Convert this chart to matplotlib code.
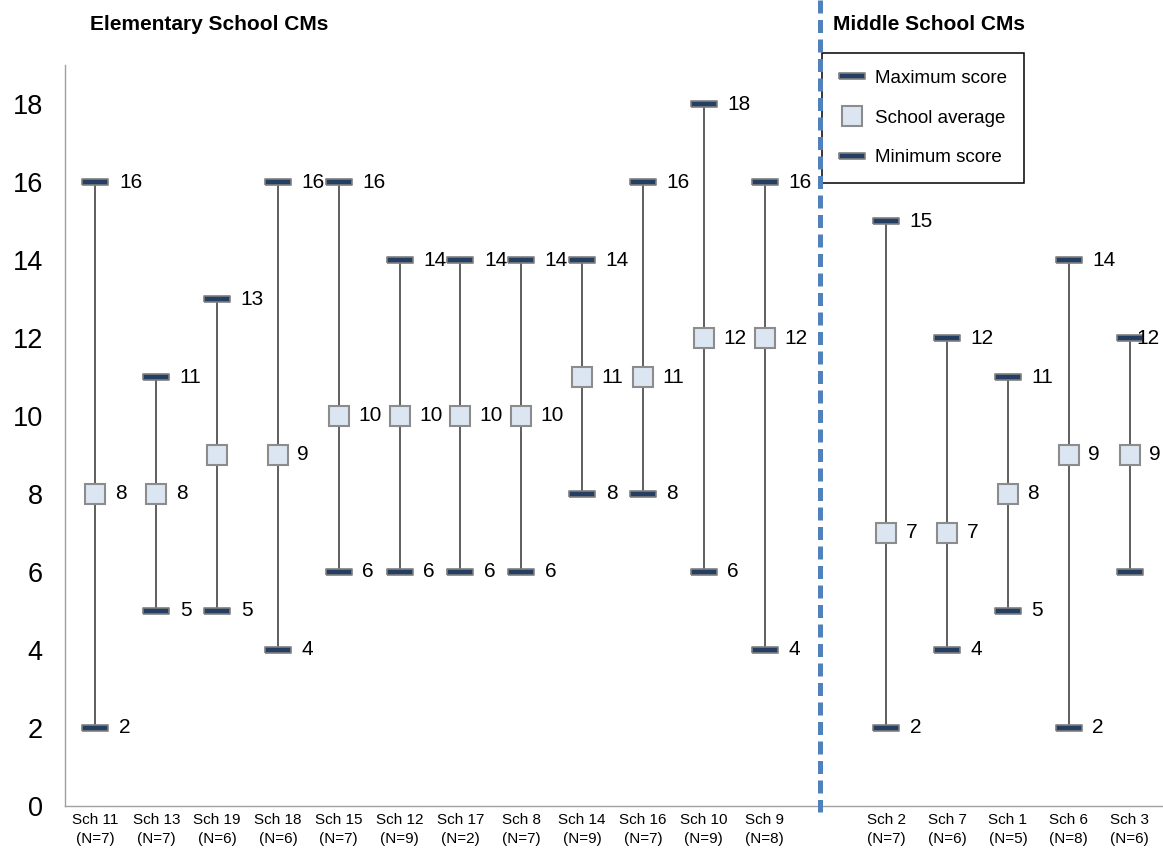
import numpy as np
import matplotlib.pyplot as plt
from matplotlib.lines import Line2D
from matplotlib.transforms import blended_transform_factory

plt.rcParams["font.family"] = ["Liberation Sans", "DejaVu Sans"]

elem_schools = ["Sch 11", "Sch 13", "Sch 19", "Sch 18", "Sch 15", "Sch 12",
                "Sch 17", "Sch 8", "Sch 14", "Sch 16", "Sch 10", "Sch 9"]
elem_n = [7, 7, 6, 6, 7, 9, 2, 7, 9, 7, 9, 8]
elem_max = [16, 11, 13, 16, 16, 14, 14, 14, 14, 16, 18, 16]
elem_avg = [8, 8, 9, 9, 10, 10, 10, 10, 11, 11, 12, 12]
elem_min = [2, 5, 5, 4, 6, 6, 6, 6, 8, 8, 6, 4]

mid_schools = ["Sch 2", "Sch 7", "Sch 1", "Sch 6", "Sch 3"]
mid_n = [7, 6, 5, 8, 6]
mid_max = [15, 12, 11, 14, 12]
mid_avg = [7, 7, 8, 9, 9]
mid_min = [2, 4, 5, 2, 6]

# labels that the original chart does not show
hidden_avg_labels = ["Sch 19"]
hidden_min_labels = ["Sch 3"]

schools = elem_schools + mid_schools
n = elem_n + mid_n
smax = elem_max + mid_max
savg = elem_avg + mid_avg
smin = elem_min + mid_min
# leave one empty slot between the two groups
x = np.r_[np.arange(len(elem_schools)), np.arange(len(mid_schools)) + len(elem_schools) + 1]

navy = "#243f63"
bar_edge = "#7f7f7f"
sq_fill = "#dce6f2"
sq_edge = "#8c8c8c"
bar_marker = [(-1, -0.19), (1, -0.19), (1, 0.19), (-1, 0.19), (-1, -0.19)]

fig = plt.figure(figsize=(11.63, 8.5), dpi=100)
ax = fig.add_axes([0.0559, 0.0518, 0.9441, 0.8717])

ax.vlines(x, smin, smax, color="#333333", lw=1.1, zorder=2)
ax.plot(x, smax, ls="none", marker=bar_marker, ms=19, mfc=navy, mec=bar_edge, mew=1.2, zorder=3)
ax.plot(x, smin, ls="none", marker=bar_marker, ms=19, mfc=navy, mec=bar_edge, mew=1.2, zorder=3)
ax.plot(x, savg, ls="none", marker="s", ms=14, mfc=sq_fill, mec=sq_edge, mew=1.5, zorder=4)

lab_kw = dict(textcoords="offset points", va="center", ha="left", fontsize=15)
for i in range(len(schools)):
    off_max = 17 if i < len(schools) - 1 else 5
    ax.annotate(str(smax[i]), (x[i], smax[i]), xytext=(off_max, 0), **lab_kw)
    if schools[i] not in hidden_min_labels:
        ax.annotate(str(smin[i]), (x[i], smin[i]), xytext=(17, 0), **lab_kw)
    if schools[i] not in hidden_avg_labels:
        ax.annotate(str(savg[i]), (x[i], savg[i]), xytext=(14, 0), **lab_kw)

ax.set_xlim(-0.5, 17.55)
ax.set_ylim(0, 19)
ax.set_yticks(np.arange(0, 19, 2))
ax.set_xticks(x)
ax.set_xticklabels([f"{s}\n(N={k})" for s, k in zip(schools, n)], fontsize=11, linespacing=1.5)
ax.tick_params(axis="y", length=0, pad=16, labelsize=19.5)
ax.tick_params(axis="x", length=0, pad=5)
for side in ["top", "right"]:
    ax.spines[side].set_visible(False)
for side in ["left", "bottom"]:
    ax.spines[side].set_color("#a0a0a0")
    ax.spines[side].set_linewidth(1.0)

# group separator
trans = blended_transform_factory(ax.transData, fig.transFigure)
sep_x = len(elem_schools) - 0.09
fig.add_artist(Line2D([sep_x, sep_x], [1.0, 0.045], transform=trans, color="#4f81bd",
                      lw=3.6, dashes=(2.6, 1.3), zorder=5))

fig.text(90 / 1163, 1 - 25 / 850, "Elementary School CMs", fontsize=15, fontweight="bold", va="center")
fig.text(833 / 1163, 1 - 24 / 850, "Middle School CMs", fontsize=15, fontweight="bold", va="center")

handles = [
    Line2D([], [], ls="none", marker=bar_marker, ms=19, mfc=navy, mec=bar_edge, mew=1.2),
    Line2D([], [], ls="none", marker="s", ms=14, mfc=sq_fill, mec=sq_edge, mew=1.5),
    Line2D([], [], ls="none", marker=bar_marker, ms=19, mfc=navy, mec=bar_edge, mew=1.2),
]
leg = ax.legend(handles, ["Maximum score", "School average", "Minimum score"],
                loc="upper left", bbox_to_anchor=(822 / 1163, 1 - 53 / 850),
                bbox_transform=fig.transFigure, borderaxespad=0, fontsize=13.5,
                frameon=True, fancybox=False, framealpha=1, edgecolor="black",
                borderpad=0.9, labelspacing=1.2, handlelength=1.4, handletextpad=0.55)
leg.get_frame().set_linewidth(1.1)

fig.savefig("out.png", dpi=100)
